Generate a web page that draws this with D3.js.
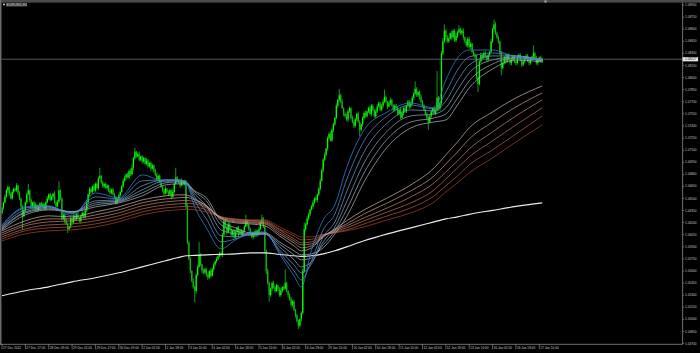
<!DOCTYPE html>
<html>
<head>
<meta charset="utf-8">
<script src="https://cdn.jsdelivr.net/npm/d3@7/dist/d3.min.js"></script>
<style>
html,body{margin:0;padding:0;background:#000;overflow:hidden}
svg{display:block}
text{font-family:"Liberation Sans",Arial,sans-serif}
</style>
</head>
<body>
<svg id="chart" width="700" height="353"></svg>
<script>
// EURUSD H1, 27 Dec 2022 - 17 Jan 2023, hourly bars (no weekend gaps)
var symbol = "EURUSD,H1";
var firstOpen = 1.0632;

var close = [
  1.0638,1.0645,1.0652,1.0660, 1.0664,1.0655,1.0650,1.0658,1.0662, 1.0660,1.0666,1.0657,
  1.0650,1.0640,1.0628,1.0635, 1.0645,1.0655,1.0660,1.0648,
  1.0640,1.0645,1.0638,1.0642,1.0636,1.0640,1.0644, 1.0640,1.0643,1.0638,1.0645,1.0650,1.0655,1.0648,
  1.0652,1.0656,1.0645,1.0640,1.0646, 1.0660,1.0650,1.0625,
  1.0630,1.0622,1.0618,1.0612,1.0615,1.0625,1.0620, 1.0628,1.0624,1.0630,1.0626,1.0622,1.0628,1.0632,1.0627,
  1.0635,1.0645,1.0655,1.0662, 1.0658,1.0665,1.0660,1.0668,1.0663, 1.0675,1.0678,
  1.0670,1.0665,1.0668,1.0663,1.0666, 1.0660,1.0657,1.0661,1.0655, 1.0652,1.0645,1.0649,1.0654,
  1.0658,1.0665,1.0672,1.0676, 1.0680,1.0676,1.0684,1.0680,1.0688, 1.0700,1.0708,1.0702,
  1.0705,1.0698,1.0702,1.0696,1.0700,1.0693,1.0697, 1.0690,1.0694,1.0687,1.0691, 1.0684,1.0680,1.0674,1.0678,
  1.0670,1.0665,1.0660,1.0656,1.0662,1.0658, 1.0655,1.0660,1.0652,1.0658, 1.0668,1.0676,1.0672,
  1.0670,1.0666,1.0672,1.0668,1.0671,
  1.0640,1.0595, 1.0575,1.0560,1.0548,1.0540, 1.0535, 1.0555,1.0565,1.0580,1.0568,1.0560,
  1.0558,1.0562,1.0555,1.0552,1.0560,1.0554, 1.0562,1.0568,1.0572,1.0575, 1.0578,1.0582,1.0580,
  1.0605,1.0622,
  1.0615,1.0608,1.0618,1.0612,1.0605,1.0610,1.0602,1.0608,1.0614,1.0606,1.0610,
  1.0605,1.0610,1.0615,1.0622,1.0618, 1.0612,1.0606,1.0602,1.0608,1.0604,1.0610,1.0606,
  1.0612,1.0620,1.0625,1.0615,
  1.0585,1.0560, 1.0545,1.0530,1.0538,1.0545, 1.0540,1.0535,1.0542,1.0538,1.0530,1.0536,1.0540,
  1.0538,1.0545,1.0535,1.0530, 1.0525,1.0518,1.0522, 1.0512,1.0505,1.0498,1.0492,1.0500, 1.0508,
  1.0560,1.0612, 1.0618,1.0625,1.0630,1.0636, 1.0640,1.0645,1.0650,1.0648,1.0655,
  1.0662,1.0672,1.0685,1.0698,1.0704,1.0712,1.0725, 1.0730,1.0722,1.0735,1.0742,
  1.0750,1.0765,1.0772,1.0778, 1.0770,1.0762,1.0755,
  1.0752,1.0748,1.0758,1.0762,1.0750,1.0745,1.0740,1.0748,1.0755,1.0745,1.0735,1.0742,1.0750,1.0756,1.0752,
  1.0758,1.0762,1.0755,1.0765,1.0760,1.0752,1.0758,1.0764,1.0768,1.0760,
  1.0765,1.0770,1.0776,1.0770,1.0764,1.0768,1.0772,1.0766,1.0760,1.0765,
  1.0762,1.0755,1.0760,1.0750,1.0756,1.0762,1.0758,1.0765,1.0770,1.0764,1.0768,
  1.0775,1.0780,1.0786,1.0778,1.0782,1.0776,1.0770,
  1.0765,1.0760,1.0755,1.0750,1.0745,1.0752,1.0758,1.0762,1.0755,1.0760,
  1.0775, 1.0762,1.0768, 1.0830,
  1.0845,1.0858,1.0850,1.0845, 1.0848,1.0855,1.0850,1.0858,1.0846,1.0852,
  1.0856,1.0860,1.0855,1.0858,1.0850, 1.0845,1.0840,1.0848,1.0838,1.0842,
  1.0832,1.0828,1.0825, 1.0800,1.0792,
  1.0820,1.0828,1.0825,1.0830,1.0826,1.0822,1.0828,1.0832,
  1.0845,1.0860,1.0866, 1.0855,1.0850,1.0845, 1.0830,1.0812,1.0818,
  1.0825,1.0820,1.0828,1.0822,1.0818,
  1.0822,1.0826,1.0820,1.0818,1.0825,1.0828,1.0822,1.0816,1.0820,1.0824,1.0827,
  1.0821,1.0818,1.0823,1.0826,1.0830,1.0824,1.0818,1.0822,1.0825,1.0820,1.08227
];

// wick lengths above / below the body, in pips
var wickUp = [
  2,1,3,2,2,1,2,3,1,2, 3,1,2,1,2,2,1,2,8,1, 2,1,2,3,1,2,1,2,2,1, 2,3,1,2,2,1,3,1,2,11,
  1,2,2,1,3,2,1,2,1,2, 2,1,3,1,2,2,1,2,3,1, 2,2,1,3,2,2,2,10,1,2, 1,2,2,1,3,1,2,2,1,2,
  2,1,2,3,2,1,2,2,3,4, 2,5,1,2,3,1,2,2,1,3, 2,1,2,2,1,3,2,1,2,2, 1,2,3,1,2,2,1,3,2,12,
  2,1,2,3,1,2,2,3,2,2, 1,3,2,2,3,16,2,1,3,2, 2,2,1,3,2,2,1,2,3,2, 2,2,3,2,1,3,2,2,1,2,
  3,1,2,2,2,1,2,8,2,1, 2,3,1,2,2,1,3,2,5,2, 2,2,3,2,1,2,3,2,2,1, 2,3,1,2,17,2,1,2,3,2,
  2,1,2,2,1,2,3,8,2,3, 2,1,2,3,2,2,1,2,3,2, 2,3,1,2,2,3,2,2,1,3, 2,8,2,3,1,2,3,2,2,1,
  3,2,2,1,3,2,1,2,2,3, 1,2,3,2,2,1,2,3,2,2, 2,3,9,2,1,2,3,2,1,2, 2,2,1,3,2,2,3,1,2,2,
  3,2,2,9,2,1,2,3,2,2, 1,2,3,2,2,1,3,2,33,2, 2,3,4,8,2,3,2,1,3,2, 2,3,2,5,2,2,3,1,2,2,
  3,2,1,2,2,3,2,2,3,1, 2,3,2,2,1,3,2,6,3,2, 2,1,3,2,2,3,1,2,2,3, 2,2,1,3,2,2,1,2,3,2,
  2,3,2,1,10,2,3,2,1,2, 2
];
var wickDn = [
  2,2,1,2,3,2,1,2,2,1, 2,3,2,2,17,1,2,2,1,3, 2,2,1,2,3,2,2,1,2,2, 3,1,2,2,1,3,2,2,1,2,
  2,2,2,3,1,5,2,2,3,1, 2,2,1,2,3,1,2,2,2,1, 3,2,2,1,2,2,3,1,2,2, 2,1,3,2,2,2,1,2,3,2,
  2,2,1,2,2,3,1,2,2,2, 3,2,2,1,2,2,3,2,1,2, 2,2,3,1,2,2,2,3,1,2, 2,3,1,2,2,1,3,2,2,1,
  2,2,3,1,2,2,3,2,2,3, 2,2,14,3,2,1,2,3,2,2, 2,3,2,2,1,3,2,2,2,1, 2,3,2,2,3,1,2,2,3,2,
  2,2,3,1,2,2,2,1,3,2, 2,1,3,2,2,3,2,1,2,2, 3,4,2,8,2,3,2,2,1,3, 2,2,3,2,1,2,3,2,2,3,
  2,3,2,4,2,3,2,2,3,2, 2,2,1,3,2,2,3,2,2,1, 3,2,2,3,2,1,2,3,2,2, 3,2,2,1,3,2,2,3,2,2,
  2,3,2,2,1,8,2,3,2,2, 2,2,1,3,2,2,3,2,1,2, 2,3,2,2,3,1,2,2,3,2, 3,2,2,2,1,3,2,2,2,3,
  2,2,3,1,2,2,3,2,2,1, 2,3,10,2,2,3,1,2,2,3, 3,2,2,2,3,2,2,1,3,2, 2,2,3,1,2,2,3,2,2,3,
  2,3,2,2,3,2,10,2,2,3, 2,2,3,2,2,1,2,3,2,2, 3,2,9,2,2,3,2,1,2,3, 2,2,3,2,1,2,3,2,2,1,
  2,3,2,2,3,2,2,3,2,1, 2
];

// moving averages read at these bar indices
var maBars = [0,16,32,48,64,80,96,112,120,126,132,140,150,160,170,180,190,200,205,212,220,228,236,248,264,280,296,304,312,320,336,352,370];

var short1 = [1.06172,1.06395,1.06408,1.06284,1.06569,1.06507,1.06792,1.06705,1.06730,1.06693,1.06395,1.06135,1.05874,1.05986,1.06073,1.06085,1.05812,1.05540,1.05403,1.05862,1.06234,1.06420,1.06879,1.07350,1.07573,1.07685,1.07623,1.07970,1.08243,1.08342,1.08342,1.08255,1.08230];
var short2 = [1.06160,1.06383,1.06401,1.06308,1.06519,1.06494,1.06718,1.06730,1.06730,1.06705,1.06470,1.06246,1.05961,1.05998,1.06060,1.06073,1.05837,1.05602,1.05490,1.05726,1.06110,1.06308,1.06730,1.07214,1.07524,1.07660,1.07610,1.07821,1.08094,1.08255,1.08305,1.08268,1.08230];
var short3 = [1.06147,1.06358,1.06395,1.06321,1.06470,1.06482,1.06656,1.06730,1.06730,1.06705,1.06519,1.06333,1.06036,1.06023,1.06048,1.06060,1.05862,1.05676,1.05577,1.05688,1.06023,1.06209,1.06581,1.07077,1.07437,1.07598,1.07586,1.07710,1.07958,1.08156,1.08268,1.08268,1.08218];
var short4 = [1.06135,1.06333,1.06383,1.06333,1.06445,1.06470,1.06606,1.06718,1.06718,1.06705,1.06556,1.06408,1.06110,1.06060,1.06048,1.06060,1.05899,1.05738,1.05651,1.05713,1.05961,1.06147,1.06457,1.06941,1.07338,1.07524,1.07548,1.07623,1.07846,1.08057,1.08218,1.08255,1.08218];
var short5 = [1.06122,1.06321,1.06370,1.06333,1.06420,1.06457,1.06569,1.06693,1.06705,1.06693,1.06581,1.06470,1.06172,1.06098,1.06060,1.06060,1.05936,1.05800,1.05738,1.05763,1.05924,1.06098,1.06358,1.06817,1.07238,1.07449,1.07499,1.07548,1.07747,1.07958,1.08168,1.08243,1.08206];
var short6 = [1.06110,1.06296,1.06358,1.06333,1.06395,1.06445,1.06532,1.06668,1.06680,1.06680,1.06594,1.06507,1.06222,1.06135,1.06073,1.06073,1.05961,1.05850,1.05800,1.05812,1.05887,1.06060,1.06271,1.06705,1.07139,1.07375,1.07449,1.07474,1.07660,1.07871,1.08106,1.08218,1.08193];

var long1 = [1.06098,1.06222,1.06284,1.06271,1.06333,1.06395,1.06482,1.06532,1.06544,1.06544,1.06494,1.06408,1.06246,1.06197,1.06184,1.06160,1.06036,1.05912,1.05850,1.05887,1.06023,1.06122,1.06222,1.06358,1.06507,1.06668,1.06879,1.07040,1.07201,1.07375,1.07573,1.07747,1.07896];
var long2 = [1.06073,1.06184,1.06246,1.06246,1.06296,1.06358,1.06445,1.06494,1.06507,1.06513,1.06482,1.06408,1.06259,1.06209,1.06197,1.06184,1.06060,1.05949,1.05887,1.05912,1.06029,1.06110,1.06184,1.06308,1.06445,1.06594,1.06780,1.06928,1.07077,1.07238,1.07449,1.07635,1.07809];
var long3 = [1.06048,1.06160,1.06209,1.06222,1.06259,1.06321,1.06408,1.06457,1.06470,1.06476,1.06457,1.06395,1.06259,1.06222,1.06209,1.06197,1.06085,1.05974,1.05924,1.05936,1.06036,1.06098,1.06160,1.06259,1.06383,1.06519,1.06693,1.06829,1.06966,1.07114,1.07325,1.07524,1.07722];
var long4 = [1.06023,1.06122,1.06172,1.06184,1.06222,1.06284,1.06370,1.06420,1.06432,1.06439,1.06432,1.06383,1.06271,1.06234,1.06222,1.06209,1.06110,1.05998,1.05949,1.05961,1.06042,1.06085,1.06135,1.06222,1.06333,1.06445,1.06606,1.06742,1.06879,1.07015,1.07214,1.07412,1.07623];
var long5 = [1.05998,1.06098,1.06135,1.06147,1.06184,1.06246,1.06333,1.06383,1.06395,1.06401,1.06395,1.06358,1.06271,1.06240,1.06228,1.06222,1.06122,1.06036,1.05986,1.05992,1.06048,1.06079,1.06110,1.06184,1.06284,1.06383,1.06532,1.06656,1.06780,1.06916,1.07102,1.07300,1.07524];
var long6 = [1.05974,1.06060,1.06098,1.06110,1.06147,1.06209,1.06296,1.06346,1.06358,1.06364,1.06358,1.06333,1.06271,1.06246,1.06234,1.06234,1.06147,1.06060,1.06023,1.06023,1.06054,1.06073,1.06098,1.06147,1.06234,1.06321,1.06457,1.06581,1.06693,1.06817,1.07003,1.07201,1.07412];

var slowMA = [1.05292,1.05354,1.05403,1.05465,1.05515,1.05577,1.05651,1.05726,1.05763,1.05788,1.05794,1.05800,1.05806,1.05812,1.05825,1.05825,1.05806,1.05788,1.05781,1.05788,1.05812,1.05850,1.05899,1.05974,1.06060,1.06135,1.06209,1.06246,1.06271,1.06302,1.06352,1.06401,1.06445];

var timeLabels = ["27 Dec 2022","27 Dec 17:00","28 Dec 09:00","29 Dec 01:00","29 Dec 17:00","30 Dec 09:00",
  "2 Jan 02:00","2 Jan 18:00","3 Jan 10:00","4 Jan 02:00","4 Jan 18:00","5 Jan 10:00","6 Jan 02:00",
  "6 Jan 18:00","9 Jan 10:00","10 Jan 02:00","10 Jan 18:00","11 Jan 10:00","12 Jan 02:00","12 Jan 18:00",
  "13 Jan 10:00","16 Jan 02:00","16 Jan 18:00","17 Jan 10:00"];
var barsPerLabel = 16;

var priceTicks = [1.08900,1.08750,1.08600,1.08450,1.08300,1.08150,1.08000,1.07850,1.07700,1.07550,
  1.07400,1.07250,1.07100,1.06950,1.06800,1.06650,1.06500,1.06350,1.06200,1.06050,1.05900,1.05750,
  1.05600,1.05450,1.05300,1.05150,1.05000,1.04850,1.04700];

// fast -> slow
var shortColours = ["#3583da","#5590cf","#7099c4","#84a2bd","#96a9b8","#a6b1b8"];
var longColours = ["#c4aea6","#c19585","#bd7e68","#b76a4f","#ae553a","#a23f24"];

var W = 700, H = 353;
var plotL = 1.5, plotR = 682.6, plotT = 2.6, plotB = 344.3;
var pip = 0.0001;

var svg = d3.select("#chart");
svg.append("rect").attr("width",W).attr("height",H).attr("fill","#000");

var x = d3.scaleLinear().domain([0,370]).range([2,542.2]);
var y = d3.scaleLinear().domain([1.04700,1.08900]).range([343.5,5]);

svg.append("clipPath").attr("id","plotclip")
  .append("rect").attr("x",plotL).attr("y",plotT).attr("width",plotR-plotL).attr("height",plotB-plotT);

var plot = svg.append("g").attr("clip-path","url(#plotclip)");

// candles
var bars = close.map(function(c,i){
  var o = i ? close[i-1] : firstOpen;
  return {i:i, o:o, c:c,
    h: Math.max(o,c) + (wickUp[i]||1)*pip,
    l: Math.min(o,c) - (wickDn[i]||1)*pip};
});

var candles = plot.append("g");
candles.selectAll("line").data(bars).enter().append("line")
  .attr("x1",d=>x(d.i)).attr("x2",d=>x(d.i))
  .attr("y1",d=>y(d.h)).attr("y2",d=>y(d.l))
  .attr("stroke","#12c812").attr("stroke-width",0.8);
candles.selectAll("rect").data(bars).enter().append("rect")
  .attr("x",d=>x(d.i)-0.65).attr("width",1.3)
  .attr("y",d=>y(Math.max(d.o,d.c)))
  .attr("height",d=>Math.max(0.7, Math.abs(y(d.o)-y(d.c))))
  .attr("fill",d=>d.c>=d.o ? "#00ff00" : "#0fb80f");

// moving averages
var line = d3.line().x((d,k)=>x(maBars[k])).y(d=>y(d)).curve(d3.curveMonotoneX);
var mas = plot.append("g").attr("fill","none");

mas.append("path").attr("d",line(slowMA)).attr("stroke","#ececec").attr("stroke-width",1.1);

[long6,long5,long4,long3,long2,long1].forEach(function(s,k){
  mas.append("path").attr("d",line(s)).attr("stroke",longColours[5-k]).attr("stroke-width",0.75);
});
[short6,short5,short4,short3,short2,short1].forEach(function(s,k){
  mas.append("path").attr("d",line(s)).attr("stroke",shortColours[5-k]).attr("stroke-width",0.75);
});

// current price line
var last = close[close.length-1];
plot.append("line").attr("x1",plotL).attr("x2",plotR)
  .attr("y1",y(last)).attr("y2",y(last))
  .attr("stroke","#6d7d8b").attr("stroke-width",0.7);

// frame
svg.append("rect").attr("x",0).attr("y",0).attr("width",W).attr("height",plotT).attr("fill","#4a4a4a");
svg.append("rect").attr("x",0).attr("y",0).attr("width",plotL).attr("height",plotB).attr("fill","#6a6a6a");
svg.append("line").attr("x1",plotR).attr("x2",plotR).attr("y1",plotT).attr("y2",plotB)
  .attr("stroke","#a0a0a0").attr("stroke-width",0.7);
svg.append("line").attr("x1",0).attr("x2",plotR).attr("y1",plotB).attr("y2",plotB)
  .attr("stroke","#a0a0a0").attr("stroke-width",0.7);

// chart shift marker
svg.append("path").attr("d","M543.5,0.6 L547.5,0.6 L545.5,3.2 Z").attr("fill","#9a9a9a");

// symbol label
svg.append("rect").attr("x",3).attr("y",3.6).attr("width",2).attr("height",1.6).attr("fill","#bcbcbc");
svg.append("rect").attr("x",6).attr("y",2.9).attr("width",21).attr("height",3.8).attr("fill","#3a3a3a");
svg.append("text").attr("x",6.6).attr("y",6.1).attr("font-size",3.6).attr("fill","#d4d4d4").text(symbol);

// price axis
var fmt = d3.format(".5f");
var pa = svg.append("g");
pa.selectAll("line").data(priceTicks).enter().append("line")
  .attr("x1",plotR).attr("x2",plotR+1.6).attr("y1",d=>y(d)).attr("y2",d=>y(d))
  .attr("stroke","#a0a0a0").attr("stroke-width",0.6);
pa.selectAll("text").data(priceTicks).enter().append("text")
  .attr("x",685).attr("y",d=>y(d)+1.1).attr("font-size",3.2).attr("fill","#c4c4c4")
  .text(d=>fmt(d));

// last price box
svg.append("rect").attr("x",plotR).attr("y",y(last)-2.1).attr("width",15.5).attr("height",4.2).attr("fill","#e6e6e6");
svg.append("text").attr("x",685).attr("y",y(last)+1.1).attr("font-size",3.2).attr("fill","#111").text(fmt(last));

// time axis
var ta = svg.append("g");
ta.selectAll("line").data(timeLabels).enter().append("line")
  .attr("x1",(d,k)=>x(k*barsPerLabel)).attr("x2",(d,k)=>x(k*barsPerLabel))
  .attr("y1",plotB).attr("y2",plotB+5)
  .attr("stroke","#a0a0a0").attr("stroke-width",0.6);
ta.selectAll("text").data(timeLabels).enter().append("text")
  .attr("x",(d,k)=>x(k*barsPerLabel)+1).attr("y",349.3)
  .attr("font-size",3.2).attr("fill","#c4c4c4")
  .text(d=>d);
</script>
</body>
</html>
